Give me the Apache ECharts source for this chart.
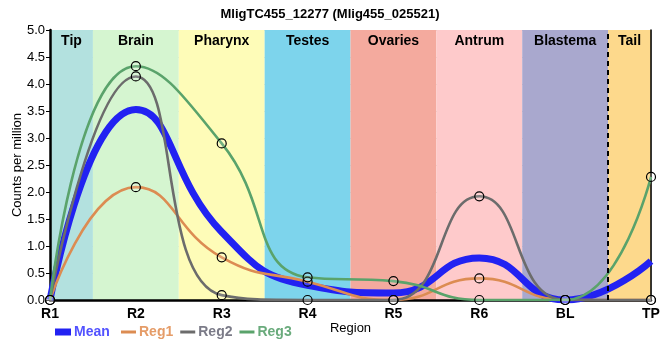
<!DOCTYPE html>
<html>
<head>
<meta charset="utf-8">
<script src="https://cdn.jsdelivr.net/npm/echarts@6/dist/echarts.min.js"></script>
<style>html,body{margin:0;padding:0;background:#fff}#c{width:660px;height:360px}</style>
</head>
<body>
<div id="c"></div>
<script>
var titleText = 'MligTC455_12277 (Mlig455_025521)';
var categories = ['R1', 'R2', 'R3', 'R4', 'R5', 'R6', 'BL', 'TP'];
var meanValues = [0, 3.53, 1.26, 0.27, 0.13, 0.78, 0, 0.72];
var reg1Values = [0, 2.09, 0.79, 0.34, 0, 0.40, 0, 0];
var reg2Values = [0, 4.14, 0.09, 0, 0, 1.92, 0, 0];
var reg3Values = [0, 4.33, 2.90, 0.42, 0.35, 0, 0, 2.28];
var regionNames = ['Tip', 'Brain', 'Pharynx', 'Testes', 'Ovaries', 'Antrum', 'Blastema', 'Tail'];
var regionStarts = [0, 0.5, 1.5, 2.5, 3.5, 4.5, 5.5, 6.5];
var regionEnds = [0.5, 1.5, 2.5, 3.5, 4.5, 5.5, 6.5, 7];
var regionColors = ['#b3e1df', '#d5f5d0', '#fefcb8', '#7dd4ec', '#f4aa9e', '#fecacb', '#a9a8ce', '#fdd98c'];
var tailBoundary = 6.5;

var NARROW = '"Liberation Sans Narrow", "Liberation Sans", Arial, sans-serif';
var SANS = '"Liberation Sans", Arial, sans-serif';

var bandData = regionNames.map(function (n, i) {
  return [
    { xAxis: regionStarts[i], name: n, itemStyle: { color: regionColors[i] } },
    { xAxis: regionEnds[i] }
  ];
});

function regSeries(name, vals, color) {
  return {
    name: name, type: 'line', data: vals, smooth: 0.5, z: 3,
    symbol: 'circle', symbolSize: 9, showSymbol: true,
    lineStyle: { color: color, width: 2.6 },
    itemStyle: { color: 'rgba(255,255,255,0.15)', borderColor: '#000', borderWidth: 1.2 },
    emphasis: { disabled: true }, animation: false
  };
}

var chart = echarts.init(document.getElementById('c'), null, { renderer: 'canvas' });
chart.setOption({
  animation: false,
  title: {
    text: titleText, left: 'center', top: 3,
    textStyle: { fontFamily: NARROW, fontSize: 13, fontWeight: 'bold', color: '#000' }
  },
  grid: { left: 50, right: 9, top: 30, bottom: 60, outerBoundsMode: 'none', containLabel: false },
  legend: [
    {
      left: 55, top: 325, padding: 0, itemWidth: 16, itemHeight: 7, itemGap: 10,
      data: [{ name: 'Mean', icon: 'rect', itemStyle: { color: '#2222f2', borderWidth: 0 }, textStyle: { color: '#5252ff' } }],
      textStyle: { fontFamily: NARROW, fontSize: 14, fontWeight: 'bold', padding: [0, 0, 0, -2] }
    },
    {
      left: 121, top: 325, padding: 0, itemWidth: 15, itemHeight: 3, itemGap: 7,
      data: [
        { name: 'Reg1', icon: 'rect', itemStyle: { color: '#dc8c52', borderWidth: 0 }, textStyle: { color: '#e59c68' } },
        { name: 'Reg2', icon: 'rect', itemStyle: { color: '#6c6c6c', borderWidth: 0 }, textStyle: { color: '#7b7b88' } },
        { name: 'Reg3', icon: 'rect', itemStyle: { color: '#5aa36b', borderWidth: 0 }, textStyle: { color: '#6aab7c' } }
      ],
      textStyle: { fontFamily: NARROW, fontSize: 14, fontWeight: 'bold', padding: [0, 0, 0, -2] }
    }
  ],
  xAxis: [
    {
      type: 'category', data: categories, boundaryGap: false, z: 1,
      name: 'Region', nameLocation: 'middle', nameGap: 22, nameMoveOverlap: false,
      nameTextStyle: { fontFamily: SANS, fontSize: 13, color: '#000' },
      axisLine: { lineStyle: { color: '#000', width: 2.5 } },
      axisTick: { show: false },
      axisLabel: { fontFamily: NARROW, fontSize: 14, fontWeight: 'bold', color: '#000', margin: 7 },
      splitLine: { show: true, lineStyle: { color: '#cccccc', width: 1 } }
    },
    { type: 'value', min: 0, max: 7, show: false }
  ],
  yAxis: [
    {
      type: 'value', min: 0, max: 5, interval: 0.5, z: 1,
      name: 'Counts per million', nameLocation: 'middle', nameGap: 26, nameMoveOverlap: false,
      nameTextStyle: { fontFamily: SANS, fontSize: 13, color: '#000' },
      axisLine: { show: true, lineStyle: { color: '#000', width: 2.5 } },
      axisTick: { show: true, length: 4, lineStyle: { color: '#000' } },
      axisLabel: { fontFamily: NARROW, fontSize: 13, color: '#000', margin: 5, formatter: function (v) { return v.toFixed(1); } },
      splitLine: { show: true, lineStyle: { color: '#cccccc', width: 1 } }
    },
    {
      type: 'value', min: 0, max: 5, position: 'right', z: 1,
      axisLine: { show: true, lineStyle: { color: '#000', width: 1.5 } },
      axisTick: { show: false }, axisLabel: { show: false }, splitLine: { show: false }
    }
  ],
  series: [
    {
      name: 'bands', type: 'line', xAxisIndex: 1, yAxisIndex: 0, data: [], z: 0, silent: true,
      markArea: {
        silent: true,
        label: { show: true, position: 'insideTop', distance: 4, fontFamily: NARROW, fontSize: 14, fontWeight: 'bold', color: '#000' },
        data: bandData
      },
      markLine: {
        silent: true, symbol: 'none',
        label: { show: false },
        lineStyle: { color: '#000', type: [5, 4], width: 2 },
        data: [{ xAxis: tailBoundary }]
      }
    },
    {
      name: 'Mean', type: 'line', data: meanValues, smooth: 0.5, z: 2,
      symbol: 'none', showSymbol: false,
      lineStyle: { color: '#2222f2', width: 7 },
      itemStyle: { color: '#2222f2' },
      emphasis: { disabled: true }
    },
    regSeries('Reg1', reg1Values, '#dc8c52'),
    regSeries('Reg2', reg2Values, '#6c6c6c'),
    regSeries('Reg3', reg3Values, '#5aa36b')
  ]
});
</script>
</body>
</html>
